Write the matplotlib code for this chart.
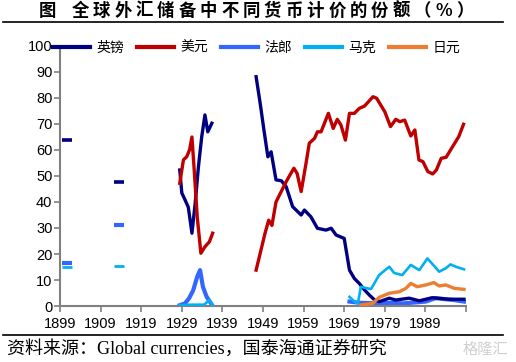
import matplotlib
matplotlib.use("Agg")
import matplotlib.pyplot as plt
from matplotlib.lines import Line2D
from matplotlib.font_manager import FontProperties

# --- data (share of reserves, %) ---
early_years = [1900.7, 1913.5]
pound_early = [63.8, 47.8]
franc_early = [16.7, 31.2]
mark_early = [14.9, 15.4]

pound_yrs_a = [1928.5, 1929.0, 1929.8, 1930.6, 1931.5, 1932.3, 1933.1, 1933.9, 1934.7, 1935.4, 1936.4]
pound_a = [52.3, 43.5, 40.8, 38.0, 28.0, 39.6, 53.6, 65.0, 73.5, 67.0, 70.3]
dollar_yrs_a = [1928.5, 1929.4, 1930.2, 1930.9, 1931.5, 1932.0, 1932.8, 1933.7, 1934.7, 1935.8, 1936.6]
dollar_a = [47.2, 56.2, 57.4, 60.0, 65.0, 53.6, 34.3, 20.3, 22.8, 24.7, 28.0]
franc_yrs_a = [1928.5, 1929.8, 1930.8, 1931.8, 1932.8, 1933.5, 1934.2, 1935.1, 1936.4]
franc_a = [0.3, 1.0, 3.0, 6.0, 11.3, 13.8, 7.4, 3.6, 0.5]
mark_yrs_a = [1928.5, 1931.0, 1933.0, 1934.5, 1935.8, 1936.6]
mark_a = [0.3, 0.5, 0.5, 0.5, 2.3, 0.3]

pound_yrs_b = [1947.3, 1948.3, 1949.2, 1950.2, 1951.0, 1952.2, 1953.5, 1954.7, 1956.3, 1958.4,
               1959.2, 1960.8, 1962.4, 1964.5, 1965.8, 1967.0, 1969.0, 1970.3, 1971.5, 1972.7,
               1974.0, 1975.2, 1976.5, 1977.7, 1980.1, 1981.7, 1985.0, 1987.5, 1990.7, 1994.7, 1998.5]
pound_b = [88.2, 78.0, 68.0, 57.4, 59.3, 48.5, 48.2, 45.9, 38.2, 35.0,
           36.9, 34.3, 29.9, 29.2, 29.9, 27.3, 26.0, 13.8, 10.6, 8.7,
           6.2, 4.2, 2.3, 1.7, 3.0, 2.3, 3.0, 2.0, 3.2, 2.6, 2.6]
dollar_yrs_b = [1947.3, 1948.5, 1949.5, 1950.4, 1951.2, 1952.2, 1954.7, 1956.6, 1957.4, 1958.4,
                1959.6, 1960.4, 1961.7, 1962.4, 1963.3, 1965.1, 1966.3, 1967.3, 1968.2, 1969.3,
                1970.3, 1971.5, 1972.7, 1974.0, 1976.1, 1977.0, 1979.0, 1980.4, 1981.7, 1982.7,
                1983.9, 1985.4, 1986.4, 1987.4, 1988.4, 1989.6, 1990.8, 1991.7, 1992.9, 1994.1,
                1995.7, 1997.2, 1998.4]
dollar_b = [13.8, 21.5, 28.0, 33.0, 31.0, 40.0, 47.8, 53.0, 51.0, 44.0,
            54.9, 62.6, 64.5, 67.0, 67.0, 74.1, 68.3, 71.8, 69.6, 63.8,
            74.1, 74.1, 76.0, 76.9, 80.5, 79.9, 74.7, 69.0, 71.8, 70.9,
            71.5, 65.4, 67.7, 56.2, 55.5, 51.7, 50.8, 52.3, 56.8, 57.2,
            61.3, 65.1, 69.9]
franc_yrs_b = [1970.3, 1973.0, 1977.6, 1980.0, 1983.5, 1986.0, 1989.1, 1991.5, 1994.0, 1996.0, 1998.5]
franc_b = [1.7, 1.2, 1.0, 1.2, 1.0, 1.3, 1.7, 3.0, 2.6, 2.3, 1.7]
mark_yrs_b = [1970.3, 1971.9, 1972.4, 1973.1, 1974.4, 1975.6, 1977.6, 1980.1, 1981.3, 1983.3,
              1985.4, 1987.5, 1989.5, 1992.4, 1994.0, 1995.2, 1996.5, 1998.5]
mark_b = [3.5, 1.2, 1.2, 7.4, 6.9, 6.5, 11.9, 15.1, 12.7, 11.9,
          15.8, 13.8, 18.3, 13.2, 14.5, 16.0, 15.1, 14.1]
yen_yrs = [1973.1, 1976.0, 1977.6, 1980.1, 1982.6, 1984.2, 1985.4, 1987.0, 1989.1, 1991.1,
           1992.4, 1994.0, 1996.1, 1998.5]
yen = [0.4, 1.0, 3.3, 4.9, 5.5, 6.8, 8.7, 7.4, 8.1, 9.0, 7.7, 8.1, 6.8, 6.4]

names = ["英镑", "美元", "法郎", "马克", "日元"]
colors = ["#000080", "#C00000", "#3366FF", "#00B0F0", "#ED7D31"]
widths = [2.4, 2.4, 3.0, 1.9, 2.4]

title_head = "图"
title_body = "全球外汇储备中不同货币计价的份额（%）"

cjk = "Noto Sans CJK SC"
W, H = 516, 362

fig = plt.figure(figsize=(W / 100, H / 100), dpi=100)
ax = fig.add_axes([60 / W, 1 - 306 / H, 406 / W, 260 / H])

# series
ax.plot(franc_yrs_a, franc_a, color=colors[2], lw=widths[2], zorder=2)
ax.plot(franc_yrs_b, franc_b, color=colors[2], lw=widths[2], zorder=2)
ax.plot(pound_yrs_a, pound_a, color=colors[0], lw=widths[0], zorder=3)
ax.plot(pound_yrs_b, pound_b, color=colors[0], lw=widths[0], zorder=3)
ax.plot(dollar_yrs_a, dollar_a, color=colors[1], lw=widths[1], zorder=4)
ax.plot(dollar_yrs_b, dollar_b, color=colors[1], lw=widths[1], zorder=4)
ax.plot(mark_yrs_a, mark_a, color=colors[3], lw=widths[3], zorder=5)
ax.plot(mark_yrs_b, mark_b, color=colors[3], lw=widths[3], zorder=5)
ax.plot(yen_yrs, yen, color=colors[4], lw=widths[4], zorder=6)

# isolated early observations as short dashes
ax.plot(early_years, pound_early, ls="none", marker="_", ms=7.5, mew=2.6, color=colors[0])
ax.plot(early_years, franc_early, ls="none", marker="_", ms=7.5, mew=3.0, color=colors[2])
ax.plot(early_years, mark_early, ls="none", marker="_", ms=7.5, mew=2.0, color=colors[3])

ax.set_xlim(1899, 1999)
ax.set_ylim(0, 100)
ax.set_xticks(range(1899, 2000, 10))
ax.set_xticklabels([str(y) for y in range(1899, 1990, 10)] + [""])
ax.set_yticks(range(0, 101, 10))
for s in ["top", "right"]:
    ax.spines[s].set_visible(False)
for s in ["left", "bottom"]:
    ax.spines[s].set_color("#808080")
    ax.spines[s].set_linewidth(1.5)
ax.tick_params(axis="both", direction="out", length=4, width=1.2, color="#808080",
               labelsize=10.5)
ax.tick_params(axis="y", pad=1.5)
ax.tick_params(axis="x", pad=4)
for lab in ax.get_xticklabels() + ax.get_yticklabels():
    lab.set_fontfamily("Liberation Sans")

handles = [Line2D([], [], color=c, lw=3) for c in colors]
fig.legend(handles, names, loc="center", bbox_to_anchor=(0.497, 1 - 48 / H), ncol=5,
           frameon=False, prop=FontProperties(family=cjk, size=10),
           handlelength=2.7, handletextpad=0.45, columnspacing=0.9)

# title, drawn with the wide letter spacing of the original
ty = 1 - 11 / H
fig.text(47.5 / W, ty, title_head, ha="center", va="center", fontsize=12.5,
         fontweight="bold", family=cjk)
for i, ch in enumerate(title_body):
    fig.text((80 + 21.4 * i) / W, ty, ch, ha="center", va="center", fontsize=12.5,
             fontweight="bold", family=[cjk, "DejaVu Sans"])
fig.add_artist(Line2D([3 / W, 503 / W], [1 - 22 / H] * 2, color="black", lw=1.2))
fig.add_artist(Line2D([3 / W, 503 / W], [1 - 335 / H] * 2, color="black", lw=1.2))
fig.text(7 / W, 1 - 349 / H, "资料来源：Global currencies，国泰海通证券研究",
         ha="left", va="center", fontsize=13, family=["Liberation Serif", cjk])
fig.text(508 / W, 1 - 349 / H, "格隆汇", ha="right", va="center", fontsize=11,
         family=cjk, color="#D0D0D0")

fig.savefig("out.png", dpi=100)
